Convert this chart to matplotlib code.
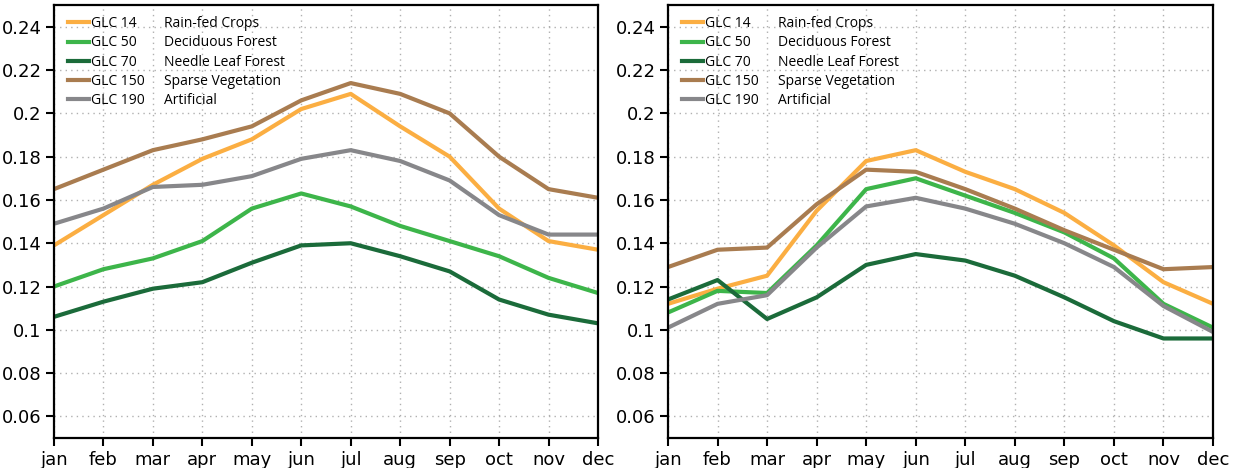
import numpy as np
import matplotlib.pyplot as plt
from matplotlib.lines import Line2D

months = ['jan', 'feb', 'mar', 'apr', 'may', 'jun', 'jul', 'aug', 'sep', 'oct', 'nov', 'dec']
codes = ['GLC 14', 'GLC 50', 'GLC 70', 'GLC 150', 'GLC 190']
names = ['Rain-fed Crops', 'Deciduous Forest', 'Needle Leaf Forest', 'Sparse Vegetation', 'Artificial']
colors = ['#FBAE42', '#3DB54A', '#1B6B3A', '#A97C50', '#87878A']

left_glc14 = [0.139, 0.153, 0.167, 0.179, 0.188, 0.202, 0.209, 0.194, 0.180, 0.156, 0.141, 0.137]
left_glc50 = [0.120, 0.128, 0.133, 0.141, 0.156, 0.163, 0.157, 0.148, 0.141, 0.134, 0.124, 0.117]
left_glc70 = [0.106, 0.113, 0.119, 0.122, 0.131, 0.139, 0.140, 0.134, 0.127, 0.114, 0.107, 0.103]
left_glc150 = [0.165, 0.174, 0.183, 0.188, 0.194, 0.206, 0.214, 0.209, 0.200, 0.180, 0.165, 0.161]
left_glc190 = [0.149, 0.156, 0.166, 0.167, 0.171, 0.179, 0.183, 0.178, 0.169, 0.153, 0.144, 0.144]

right_glc14 = [0.112, 0.119, 0.125, 0.155, 0.178, 0.183, 0.173, 0.165, 0.154, 0.139, 0.122, 0.112]
right_glc50 = [0.108, 0.118, 0.117, 0.139, 0.165, 0.170, 0.162, 0.154, 0.145, 0.133, 0.112, 0.101]
right_glc70 = [0.114, 0.123, 0.105, 0.115, 0.130, 0.135, 0.132, 0.125, 0.115, 0.104, 0.096, 0.096]
right_glc150 = [0.129, 0.137, 0.138, 0.158, 0.174, 0.173, 0.165, 0.156, 0.146, 0.137, 0.128, 0.129]
right_glc190 = [0.101, 0.112, 0.116, 0.138, 0.157, 0.161, 0.156, 0.149, 0.140, 0.129, 0.111, 0.099]

left_series = [left_glc14, left_glc50, left_glc70, left_glc150, left_glc190]
right_series = [right_glc14, right_glc50, right_glc70, right_glc150, right_glc190]
yticks = [0.06, 0.08, 0.1, 0.12, 0.14, 0.16, 0.18, 0.2, 0.22, 0.24]
ytick_labels = ['0.06', '0.08', '0.1', '0.12', '0.14', '0.16', '0.18', '0.2', '0.22', '0.24']


def draw_panel(ax, series):
    x = np.arange(len(months))
    for vals, c in zip(series, colors):
        ax.plot(x, vals, color=c, linewidth=3, solid_capstyle='butt')
    ax.set_xlim(0, len(months) - 1)
    ax.set_ylim(0.05, 0.25)
    ax.set_xticks(x)
    ax.set_xticklabels(months)
    ax.set_yticks(yticks)
    ax.set_yticklabels(ytick_labels)
    ax.grid(True, color='#b0b0b0', linestyle=(0, (1, 3)), linewidth=1)
    ax.tick_params(axis='both', direction='out', length=6, width=1.5, labelsize=13, pad=3)
    for s in ax.spines.values():
        s.set_linewidth(1.6)

    handles = [Line2D([], [], color=c, linewidth=3) for c in colors]
    blanks = [Line2D([], [], color='none') for _ in colors]
    leg = ax.legend(handles + blanks, codes + names, ncol=2, loc='upper left',
                    frameon=False, handlelength=1.5, handletextpad=0.1,
                    columnspacing=-0.2, labelspacing=0.3,
                    prop={'family': 'Open Sans', 'size': 10},
                    bbox_to_anchor=(0.006, 1.0), borderaxespad=0.4)
    return leg


fig = plt.figure(figsize=(12.43, 4.68), dpi=100)
ax1 = fig.add_axes([0.0434, 0.064, 0.4377, 0.925])
ax2 = fig.add_axes([0.5374, 0.064, 0.4385, 0.925])
draw_panel(ax1, left_series)
draw_panel(ax2, right_series)

fig.savefig('out.png', dpi=100)
